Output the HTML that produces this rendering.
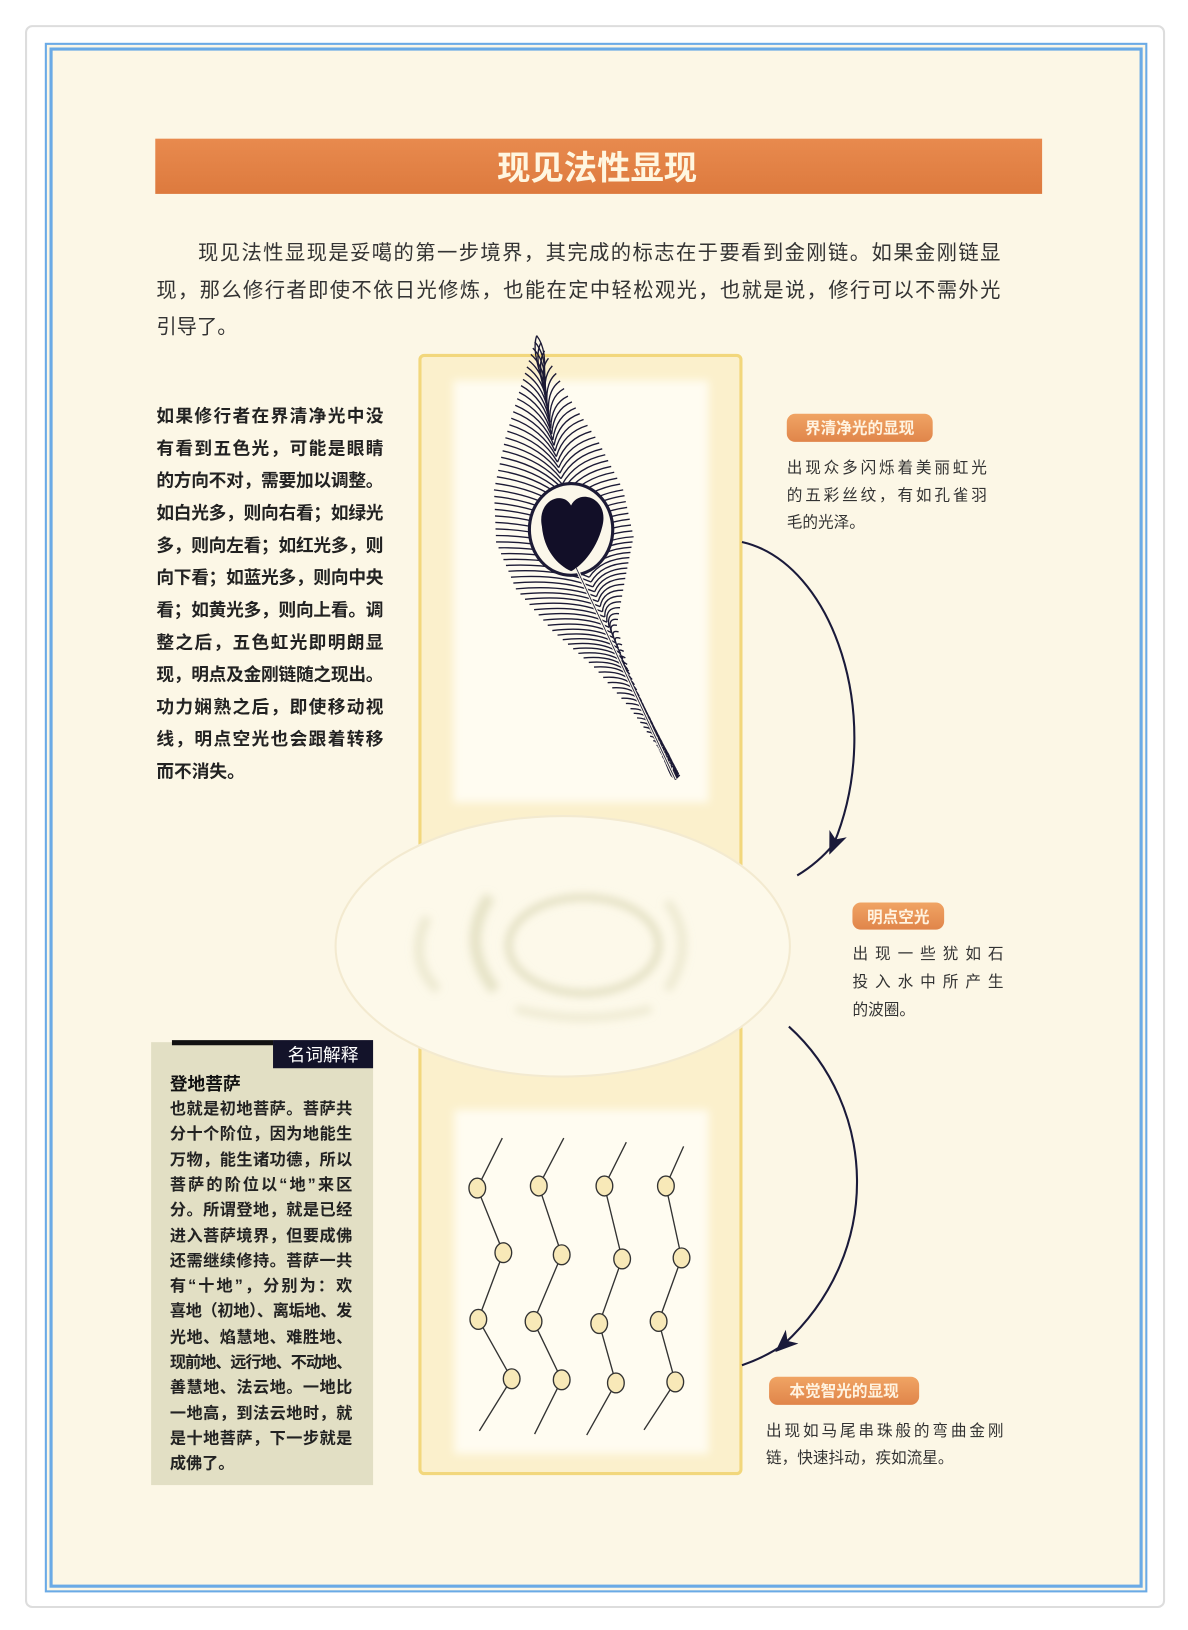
<!DOCTYPE html>
<html><head><meta charset="utf-8"><style>
html,body{margin:0;padding:0;background:#fff;width:1188px;height:1630px;overflow:hidden}
svg{display:block}
text{font-family:"Liberation Sans","Noto Sans CJK SC",sans-serif}
.serif{font-family:"Liberation Serif","Noto Serif CJK SC",serif}
</style></head><body>
<svg id="s" width="1188" height="1630" viewBox="0 0 1140 1564" xmlns="http://www.w3.org/2000/svg">
<defs>
<linearGradient id="tb" x1="0" y1="0" x2="0" y2="1"><stop offset="0" stop-color="#e88a4e"/><stop offset="1" stop-color="#dd7a3e"/></linearGradient>
<linearGradient id="bd" x1="0" y1="0" x2="0" y2="1"><stop offset="0" stop-color="#f0a464"/><stop offset="1" stop-color="#e0854a"/></linearGradient>
<filter id="bl"><feGaussianBlur stdDeviation="4"/></filter>
<marker id="ah" markerWidth="22" markerHeight="22" refX="11" refY="11" orient="auto" markerUnits="userSpaceOnUse"><path d="M0,2 L22,11 L0,20 L6,11 Z" fill="#1a1a3a"/></marker>
</defs>
<rect x="25" y="25" width="1092" height="1517" rx="6" fill="#fff" stroke="#ddd" stroke-width="2"/>
<rect x="44" y="42" width="1056" height="1485" fill="#fcf7e6" stroke="#6aaae6" stroke-width="2"/>
<rect x="49" y="47" width="1046" height="1475" fill="none" stroke="#6aaae6" stroke-width="3"/>
<rect x="149" y="133" width="851" height="53" fill="url(#tb)"/>
<text x="573" y="172" text-anchor="middle" font-size="32" font-weight="bold" fill="#fff6e0">现见法性显现</text>
<g font-size="19.5" fill="#333">
<text x="190" y="249" textLength="770">现见法性显现是妥噶的第一步境界，其完成的标志在于要看到金刚链。如果金刚链显</text>
<text x="150" y="285" textLength="810">现，那么修行者即使不依日光修炼，也能在定中轻松观光，也就是说，修行可以不需外光</text>
<text x="150" y="320">引导了。</text>
</g>
<g class="serif" font-size="17" font-weight="bold" fill="#222">
<text x="150" y="405" textLength="218">如果修行者在界清净光中没</text>
<text x="150" y="436" textLength="218">有看到五色光，可能是眼睛</text>
<text x="150" y="467" textLength="218">的方向不对，需要加以调整。</text>
<text x="150" y="498" textLength="218">如白光多，则向右看；如绿光</text>
<text x="150" y="529" textLength="218">多，则向左看；如红光多，则</text>
<text x="150" y="560" textLength="218">向下看；如蓝光多，则向中央</text>
<text x="150" y="591" textLength="218">看；如黄光多，则向上看。调</text>
<text x="150" y="622" textLength="218">整之后，五色虹光即明朗显</text>
<text x="150" y="653" textLength="218">现，明点及金刚链随之现出。</text>
<text x="150" y="684" textLength="218">功力娴熟之后，即使移动视</text>
<text x="150" y="715" textLength="218">线，明点空光也会跟着转移</text>
<text x="150" y="746">而不消失。</text>
</g>
<rect x="403" y="341" width="308" height="1073" rx="4" fill="#fbf0cc" stroke="#f2d77c" stroke-width="3"/>
<rect x="435" y="365" width="245" height="405" fill="#fffcf1" filter="url(#bl)"/>
<rect x="436" y="1065" width="244" height="330" fill="#fffcf1" filter="url(#bl)"/>
<ellipse cx="540" cy="908" rx="218" ry="125" fill="#fdf9ea" stroke="#f3ead0" stroke-width="2"/>
<g fill="none" stroke="#d2cfa8" filter="url(#bl)">
<ellipse cx="560" cy="907" rx="72" ry="46" stroke-width="6" opacity="0.7"/>
<path d="M470,860 Q440,905 475,950" stroke-width="11" opacity="0.55"/>
<path d="M640,865 Q670,905 640,950" stroke-width="8" opacity="0.4"/>
<path d="M495,968 Q560,985 625,968" stroke-width="7" opacity="0.4"/>
<path d="M410,880 Q390,920 420,950" stroke-width="9" opacity="0.4"/>
</g>
<g id="feather" stroke="#1c1a35" fill="none" stroke-width="1.3"></g>
<g id="chain" stroke="#333" stroke-width="1.3" fill="#f8e9b8"></g>
<path d="M712,520 C800,540 850,690 800,810" fill="none" stroke="#1a1a3a" stroke-width="2" marker-end="url(#ah)"/>
<path d="M800,810 Q785,828 765,840" fill="none" stroke="#1a1a3a" stroke-width="2"/>
<path d="M757,985 C840,1060 850,1200 752,1290" fill="none" stroke="#1a1a3a" stroke-width="2" marker-end="url(#ah)"/>
<path d="M752,1290 Q735,1302 712,1310" fill="none" stroke="#1a1a3a" stroke-width="2"/>
<rect x="755" y="397" width="140" height="27" rx="8" fill="url(#bd)"/>
<text x="825" y="416" text-anchor="middle" font-size="15" font-weight="bold" fill="#fff3e0">界清净光的显现</text>
<g class="serif" font-size="15" fill="#333">
<text x="755" y="454" textLength="192">出现众多闪烁着美丽虹光</text>
<text x="755" y="480" textLength="192">的五彩丝纹，有如孔雀羽</text>
<text x="755" y="506">毛的光泽。</text>
</g>
<rect x="818" y="866" width="88" height="26" rx="8" fill="url(#bd)"/>
<text x="862" y="885" text-anchor="middle" font-size="15" font-weight="bold" fill="#fff3e0">明点空光</text>
<g class="serif" font-size="15" fill="#333">
<text x="818" y="920" textLength="145">出现一些犹如石</text>
<text x="818" y="947" textLength="145">投入水中所产生</text>
<text x="818" y="974">的波圈。</text>
</g>
<rect x="738" y="1321" width="144" height="27" rx="8" fill="url(#bd)"/>
<text x="810" y="1340" text-anchor="middle" font-size="15" font-weight="bold" fill="#fff3e0">本觉智光的显现</text>
<g class="serif" font-size="15" fill="#333">
<text x="735" y="1378" textLength="228">出现如马尾串珠般的弯曲金刚</text>
<text x="735" y="1404">链，快速抖动，疾如流星。</text>
</g>
<rect x="145" y="1000" width="213" height="425" fill="#e2dfc4"/>
<path d="M165,998 L262,998 L262,1003 L165,1003 Z" fill="#111"/>
<rect x="262" y="998" width="96" height="27" fill="#13132a"/>
<text x="310" y="1018" text-anchor="middle" font-size="17" fill="#fff">名词解释</text>
<text x="163" y="1046" font-size="17" font-weight="bold" fill="#111">登地菩萨</text>
<g font-size="15.5" font-weight="bold" fill="#222">
<text x="163" y="1069" textLength="175">也就是初地菩萨。菩萨共</text>
<text x="163" y="1093" textLength="175">分十个阶位，因为地能生</text>
<text x="163" y="1118" textLength="175">万物，能生诸功德，所以</text>
<text x="163" y="1142" textLength="175">菩萨的阶位以“地”来区</text>
<text x="163" y="1166" textLength="175">分。所谓登地，就是已经</text>
<text x="163" y="1191" textLength="175">进入菩萨境界，但要成佛</text>
<text x="163" y="1215" textLength="175">还需继续修持。菩萨一共</text>
<text x="163" y="1239" textLength="175">有“十地”，分别为：欢</text>
<text x="163" y="1263" textLength="175">喜地（初地）、离垢地、发</text>
<text x="163" y="1288" textLength="175">光地、焰慧地、难胜地、</text>
<text x="163" y="1312" textLength="175">现前地、远行地、不动地、</text>
<text x="163" y="1336" textLength="175">善慧地、法云地。一地比</text>
<text x="163" y="1361" textLength="175">一地高，到法云地时，就</text>
<text x="163" y="1385" textLength="175">是十地菩萨，下一步就是</text>
<text x="163" y="1409">成佛了。</text>
</g>
</svg>
<script>
var NS="http://www.w3.org/2000/svg";
function el(t,a,p){var e=document.createElementNS(NS,t);for(var k in a)e.setAttribute(k,a[k]);p.appendChild(e);return e;}
var ch=document.getElementById('chain');
var cols=[
[[482,1092],[458,1140],[483,1202],[459,1266],[491,1323],[460,1373]],
[[541,1092],[517,1138],[539,1204],[512,1268],[539,1324],[513,1376]],
[[601,1096],[580,1138],[597,1208],[575,1270],[591,1327],[563,1377]],
[[656,1100],[639,1138],[654,1207],[632,1268],[648,1326],[618,1372]]];
cols.forEach(function(c){
 el('polyline',{points:c.map(function(p){return p.join(',')}).join(' '),fill:'none'},ch);
 for(var i=1;i<5;i++)el('ellipse',{cx:c[i][0],cy:c[i][1],rx:8,ry:9.5},ch);
});
var f=document.getElementById('feather');
var L=[[515,322],[500,370],[485,420],[474,470],[476,520],[495,565],[530,605],[570,640],[605,680],[630,715],[648,748]];
var R=[[515,322],[545,380],[575,425],[598,470],[608,515],[600,555],[592,600],[605,650],[625,700],[640,730],[648,748]];
function interp(P,t){var n=P.length-1,s=t*n,i=Math.min(Math.floor(s),n-1),u=s-i;return[P[i][0]+(P[i+1][0]-P[i][0])*u,P[i][1]+(P[i+1][1]-P[i][1])*u];}
var A=[[515,330],[530,420],[548,505],[575,580],[610,660],[648,748]];
for(var k=0;k<=80;k++){var t=k/80;
 var a=interp(A,Math.min(1,t+0.08));
 [L,R].forEach(function(P){var p=interp(P,t);
  var mx=(p[0]+a[0])/2+ (P===L?8:-8), my=(p[1]+a[1])/2-8;
  el('path',{d:'M'+p[0].toFixed(1)+','+p[1].toFixed(1)+' Q'+mx.toFixed(1)+','+my.toFixed(1)+' '+a[0].toFixed(1)+','+a[1].toFixed(1)},f);});
}
el('ellipse',{cx:548,cy:508,rx:40,ry:44,fill:'#fbf7ea','stroke-width':'3'},f);
el('path',{d:'M520,505 C515,480 540,470 548,485 C556,468 585,478 578,505 C572,530 555,545 548,548 C535,542 522,528 520,505Z',fill:'#120f28',stroke:'none'},f);
el('path',{d:'M553,545 L648,748',stroke:'#fbf7ea','stroke-width':'3'},f);
el('path',{d:'M553,545 L648,748','stroke-width':'0.8'},f);
</script>
</body></html>
